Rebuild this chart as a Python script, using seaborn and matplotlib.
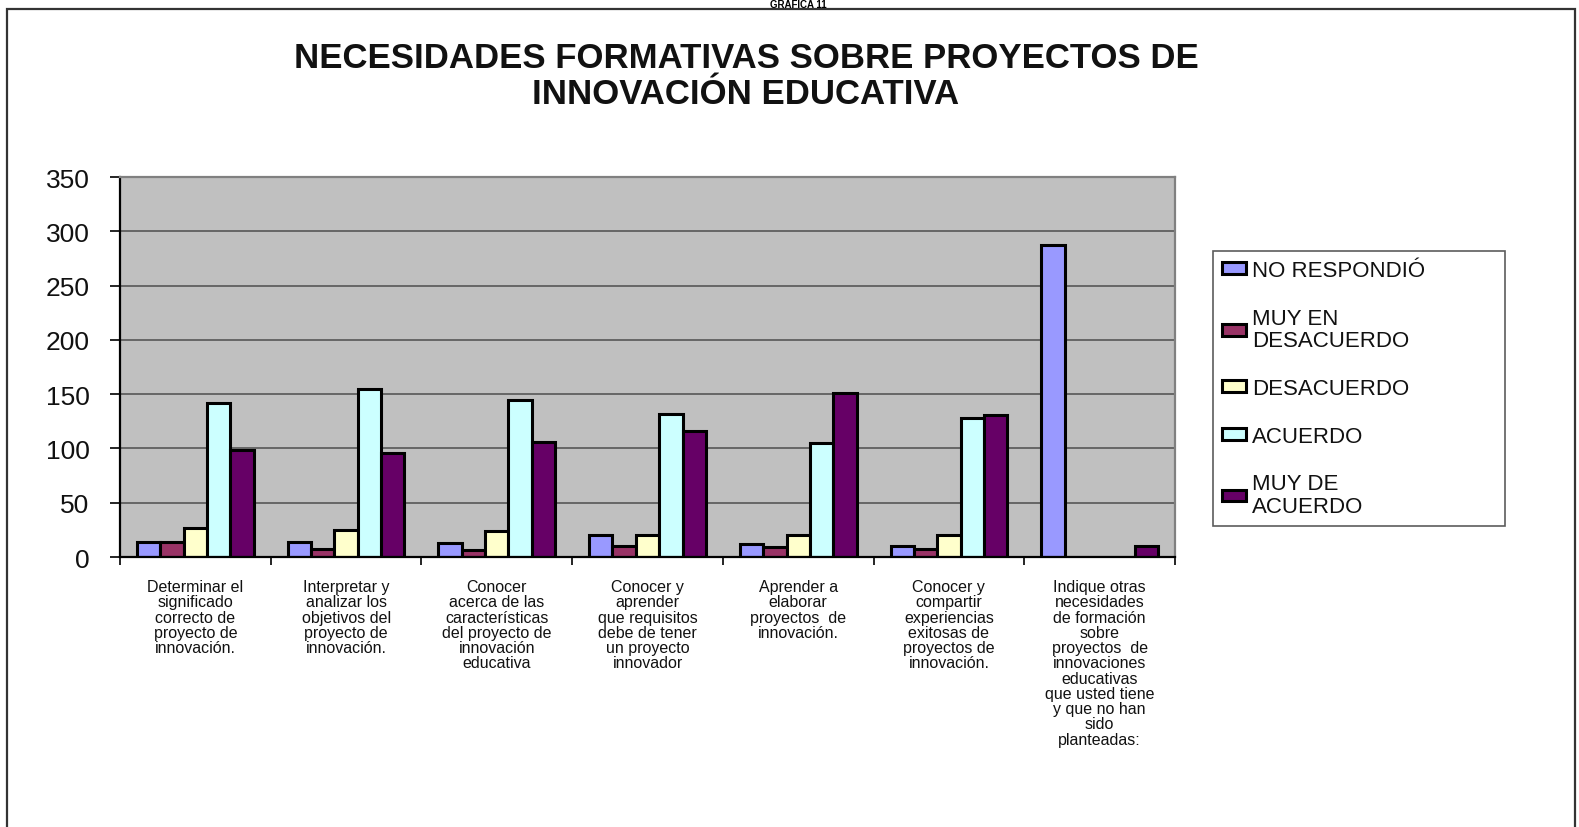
import numpy as np
import pandas as pd
import matplotlib
matplotlib.use("Agg")
import matplotlib.pyplot as plt
from matplotlib.patches import Rectangle
import seaborn as sns

categories = [
    "Determinar el\nsignificado\ncorrecto de\nproyecto de\ninnovación.",
    "Interpretar y\nanalizar los\nobjetivos del\nproyecto de\ninnovación.",
    "Conocer\nacerca de las\ncaracterísticas\ndel proyecto de\ninnovación\neducativa",
    "Conocer y\naprender\nque requisitos\ndebe de tener\nun proyecto\ninnovador",
    "Aprender a\nelaborar\nproyectos  de\ninnovación.",
    "Conocer y\ncompartir\nexperiencias\nexitosas de\nproyectos de\ninnovación.",
    "Indique otras\nnecesidades\nde formación\nsobre\nproyectos  de\ninnovaciones\neducativas\nque usted tiene\ny que no han\nsido\nplanteadas:",
]
series_names = ["NO RESPONDIÓ", "MUY EN\nDESACUERDO", "DESACUERDO", "ACUERDO", "MUY DE\nACUERDO"]
no_respondio = [14, 14, 13, 20, 12, 10, 287]
muy_desacuerdo = [14, 7, 6, 10, 9, 7, 0]
desacuerdo = [27, 25, 24, 20, 20, 20, 0]
acuerdo = [142, 155, 145, 132, 105, 128, 0]
muy_acuerdo = [99, 96, 106, 116, 151, 131, 10]
yticks = [0, 50, 100, 150, 200, 250, 300, 350]
colors = ["#9999FF", "#993366", "#FFFFCC", "#CCFFFF", "#660066"]

series_vals = [no_respondio, muy_desacuerdo, desacuerdo, acuerdo, muy_acuerdo]
rows = []
for name, vals in zip(series_names, series_vals):
    for c, v in zip(categories, vals):
        rows.append({"cat": c, "serie": name, "valor": v})
df = pd.DataFrame(rows)

sns.set_style("white")
plt.rcParams["font.family"] = ["Liberation Sans", "DejaVu Sans"]

W, H = 1579, 828
fig = plt.figure(figsize=(W / 100, H / 100), dpi=100)
ax = fig.add_axes([120 / W, 1 - 558 / H, (1175 - 120) / W, (558 - 178) / H])
ax.set_facecolor("#C0C0C0")

sns.barplot(data=df, x="cat", y="valor", hue="serie", order=categories,
            hue_order=series_names, palette=colors, width=0.775, gap=0,
            edgecolor="black", linewidth=2.2, ax=ax, legend=True, errorbar=None,
            saturation=1)

ax.set_ylim(0, 350)
ax.set_xlim(-0.5, len(categories) - 0.5)
ax.set_yticks(yticks)
ax.set_yticklabels([str(t) for t in yticks], fontsize=19, color="#111111")
ax.yaxis.grid(True, color="#666666", linewidth=1.4)
ax.set_axisbelow(True)
ax.set_xlabel("")
ax.set_ylabel("")
ax.tick_params(axis="y", which="major", length=7, width=1.2, direction="out",
               left=True, pad=15, color="black")
ax.set_xticks(range(len(categories)))
ax.set_xticklabels(categories, fontsize=11.5, linespacing=1.02, color="#111111")
ax.tick_params(axis="x", which="major", length=0, pad=16)
ax.set_xticks(np.arange(-0.5, len(categories)), minor=True)
ax.tick_params(axis="x", which="minor", length=6, width=1.2, direction="out",
               bottom=True, color="black")

for s in ["left", "bottom"]:
    ax.spines[s].set_color("black")
    ax.spines[s].set_linewidth(1.6)
for s in ["top", "right"]:
    ax.spines[s].set_color("#808080")
    ax.spines[s].set_linewidth(1.6)

handles, labels = ax.get_legend_handles_labels()
leg = ax.legend(handles, labels, loc="upper left", mode="expand",
                bbox_to_anchor=(1213 / W, 1 - 520 / H, 292 / W, 268 / H),
                bbox_transform=fig.transFigure,
                frameon=True, fancybox=False, edgecolor="#333333", fontsize=16,
                handlelength=1.1, handleheight=0.45, handletextpad=0.25,
                labelspacing=1.2, borderpad=0.4, borderaxespad=0)
leg.get_frame().set_linewidth(1.2)
for t in leg.get_texts():
    t.set_color("#111111")
    t.set_linespacing(1.12)

fig.text(746 / W, 1 - 42 / H,
         "NECESIDADES FORMATIVAS SOBRE PROYECTOS DE\nINNOVACIÓN EDUCATIVA",
         ha="center", va="top", fontsize=25, fontweight="bold", linespacing=1.1,
         color="#111111")
fig.text(798 / W, 1 - 0.5 / H, "GRÁFICA 11", ha="center", va="top",
         fontsize=7, fontweight="bold", color="black")

fig.patches.append(Rectangle((7 / W, -0.05), (1575 - 7) / W, 1.05 - 10 / H,
                             transform=fig.transFigure, fill=False,
                             edgecolor="#333333", linewidth=1.6))

fig.savefig("out.png", dpi=100)
